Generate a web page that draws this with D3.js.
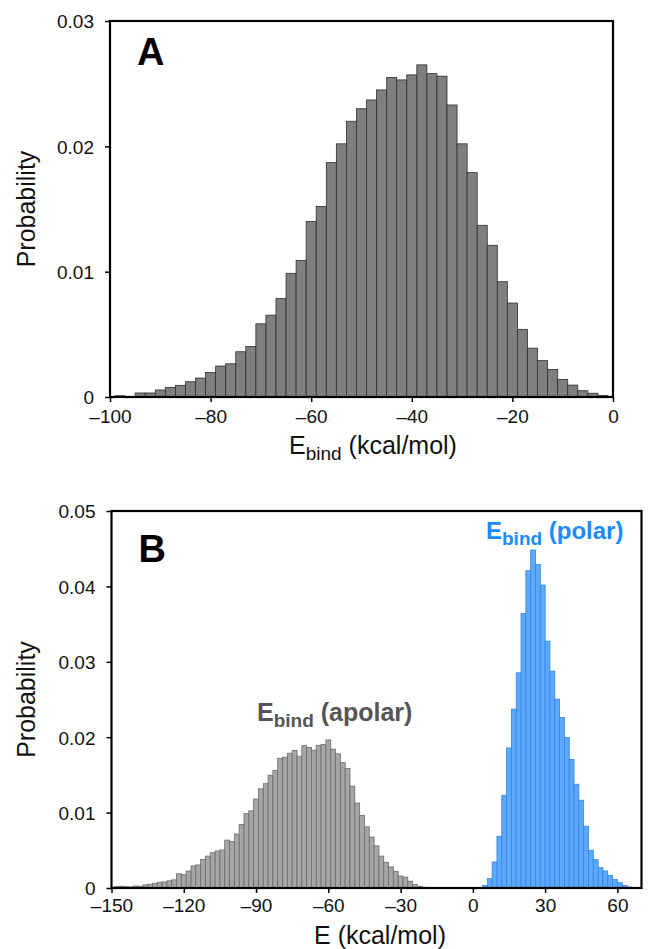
<!DOCTYPE html>
<html>
<head>
<meta charset="utf-8">
<script src="https://cdn.jsdelivr.net/npm/d3@7/dist/d3.min.js"></script>
<style>
  body { margin: 0; background: #fff; }
  svg { font-family: "Liberation Sans", Arial, Helvetica, sans-serif; }
</style>
</head>
<body>
<svg id="vis" width="651" height="949"></svg>
<script>
// panel A: E_bind histogram, bins of width 2 centred on these values
var bindCenters = d3.range(-98, 0, 2);
var bindProb = [0.0001, 0,
  0.00032, 0.00032, 0.00056, 0.00077, 0.00093, 0.00122, 0.00151, 0.00196, 0.00247, 0.00265,
  0.00361, 0.00403, 0.00584, 0.00653, 0.00785, 0.00987, 0.0109, 0.0140, 0.0152, 0.0187,
  0.0202, 0.0220, 0.0230, 0.0237, 0.0245, 0.0255, 0.0253, 0.0257, 0.0265, 0.0258,
  0.0256, 0.0233, 0.0202, 0.0179, 0.0137, 0.0121, 0.0092, 0.0075, 0.0054, 0.0039,
  0.0029, 0.0022, 0.0014, 0.00095, 0.0005, 0.0003, 0.00013];

// panel B: apolar part (gray)
var apolarCenters = d3.range(-148, -18, 2);
var apolarProb = [0.00018, 0.00023, 0.00018, 0.00014, 0.00027, 0.00023, 0.00041, 0.0005, 0.00063, 0.00077,
  0.00081, 0.00095, 0.00108, 0.00189, 0.00176, 0.00225, 0.00293, 0.00306, 0.00378, 0.00423,
  0.00468, 0.00491, 0.00505, 0.00635, 0.00617, 0.00716, 0.00842, 0.00986, 0.01023, 0.0118,
  0.01315, 0.01383, 0.01495, 0.01559, 0.0172, 0.01734, 0.01788, 0.01824, 0.01748, 0.01887,
  0.01865, 0.01829, 0.01892, 0.01905, 0.01964, 0.01842, 0.01779, 0.01662, 0.01586, 0.01351,
  0.01126, 0.00964, 0.00811, 0.00676, 0.00559, 0.00423, 0.00342, 0.00279, 0.00221, 0.00158,
  0.00144, 0.0009, 0.00045, 0.0002, 0.0001];

// panel B: polar part (blue)
var polarCenters = d3.range(5, 67, 2);
var polarProb = [0.00035, 0.00124, 0.00345, 0.00686, 0.0123, 0.01858, 0.02372, 0.02854, 0.03642, 0.04208,
  0.04482, 0.04292, 0.04018, 0.03274, 0.02876, 0.02504, 0.02261, 0.01996, 0.01704, 0.01376,
  0.01164, 0.00819, 0.005, 0.00376, 0.0027, 0.00226, 0.00168, 0.00111, 0.00071, 0.00035,
  0.00013];

var xTicksA = [-100, -80, -60, -40, -20, 0];
var yTicksA = [0, 0.01, 0.02, 0.03];
var xTicksB = [-150, -120, -90, -60, -30, 0, 30, 60];
var yTicksB = [0, 0.01, 0.02, 0.03, 0.04, 0.05];

var vis = d3.select("#vis");

var fmtX = function(d) { return d < 0 ? "\u2013" + Math.abs(d) : String(d); };
var fmtY = function(d) { return d === 0 ? "0" : d3.format(".2f")(d); };

/*
  one histogram panel: frame, axes, bars
*/
var panel = function(opt) {
  var x = d3.scaleLinear().domain(opt.xDomain).range([opt.left, opt.right]);
  var y = d3.scaleLinear().domain(opt.yDomain).range([opt.bottom, opt.top]);
  var g = vis.append("g");

  opt.series.forEach(function(s) {
    g.append("g").selectAll("rect")
      .data(s.centers.map(function(c, i) { return {c: c, v: s.values[i]}; }).filter(function(d) { return d.v > 0; }))
      .enter().append("rect")
        .attr("x", function(d) { return x(Math.max(d.c - 1, opt.xDomain[0])); })
        .attr("width", function(d) { return x(d.c + 1) - x(Math.max(d.c - 1, opt.xDomain[0])); })
        .attr("y", function(d) { return y(d.v); })
        .attr("height", function(d) { return y(0) - y(d.v); })
        .attr("fill", s.fill)
        .attr("stroke", s.stroke)
        .attr("stroke-width", 0.8);
  });

  // frame
  g.append("rect")
    .attr("x", opt.left).attr("y", opt.top)
    .attr("width", opt.right - opt.left).attr("height", opt.bottom - opt.top)
    .attr("fill", "none").attr("stroke", "#000").attr("stroke-width", 2.2);

  var xAxis = g.append("g")
    .attr("transform", "translate(0," + opt.bottom + ")")
    .call(d3.axisBottom(x).tickValues(opt.xTicks).tickFormat(fmtX).tickSize(5).tickPadding(opt.xPad));
  var yAxis = g.append("g")
    .attr("transform", "translate(" + opt.left + ",0)")
    .call(d3.axisLeft(y).tickValues(opt.yTicks).tickFormat(fmtY).tickSize(5).tickPadding(11));
  [xAxis, yAxis].forEach(function(a) {
    a.select(".domain").remove();
    a.selectAll("line").attr("stroke", "#000").attr("stroke-width", 1.5);
    a.selectAll("text").attr("font-size", 19).attr("fill", "#111")
      .attr("font-family", "'Liberation Sans', Arial, sans-serif");
  });
  yAxis.selectAll("text").attr("dy", "0.36em");

  // panel letter
  g.append("text")
    .attr("x", opt.left + 27).attr("y", opt.letterY)
    .attr("font-size", 38).attr("font-weight", "bold")
    .text(opt.letter);

  // y label
  g.append("text")
    .attr("transform", "translate(35," + ((opt.top + opt.bottom) / 2) + ") rotate(-90)")
    .attr("text-anchor", "middle")
    .attr("font-size", 25).attr("fill", "#111")
    .text("Probability");

  return {x: x, y: y, g: g};
};

var pa = panel({
  left: 110, right: 613, top: 21, bottom: 397,
  xDomain: [-100, 0], yDomain: [0, 0.03],
  xTicks: xTicksA, yTicks: yTicksA, xPad: 8,
  letter: "A", letterY: 65,
  series: [{centers: bindCenters, values: bindProb, fill: "#7f7f7f", stroke: "#2e2e2e"}]
});

var labA = pa.g.append("text")
  .attr("x", 373).attr("y", 454)
  .attr("text-anchor", "middle")
  .attr("font-size", 25).attr("fill", "#111");
labA.append("tspan").text("E");
labA.append("tspan").attr("font-size", 19).attr("dy", 6).text("bind");
labA.append("tspan").attr("dy", -6).text(" (kcal/mol)");

var pb = panel({
  left: 111.5, right: 641.5, top: 511, bottom: 888,
  xDomain: [-150, 70], yDomain: [0, 0.05],
  xTicks: xTicksB, yTicks: yTicksB, xPad: 6,
  letter: "B", letterY: 562,
  series: [
    {centers: apolarCenters, values: apolarProb, fill: "#a6a6a6", stroke: "#6a6a6a"},
    {centers: polarCenters, values: polarProb, fill: "#5ea8fc", stroke: "#2f86e8"}
  ]
});

pb.g.append("text")
  .attr("x", 380).attr("y", 944)
  .attr("text-anchor", "middle")
  .attr("font-size", 25).attr("fill", "#111")
  .text("E (kcal/mol)");

// series labels
var seriesLabel = function(x0, y0, name, color, size) {
  var t = pb.g.append("text")
    .attr("x", x0).attr("y", y0)
    .attr("font-size", size).attr("font-weight", "bold").attr("fill", color);
  t.append("tspan").text("E");
  t.append("tspan").attr("font-size", 19).attr("dy", 6).text("bind");
  t.append("tspan").attr("dy", -6).text(" (" + name + ")");
};
seriesLabel(257, 721, "apolar", "#555555", 25);
seriesLabel(486, 539, "polar", "#1a8cff", 24);
</script>
</body>
</html>
